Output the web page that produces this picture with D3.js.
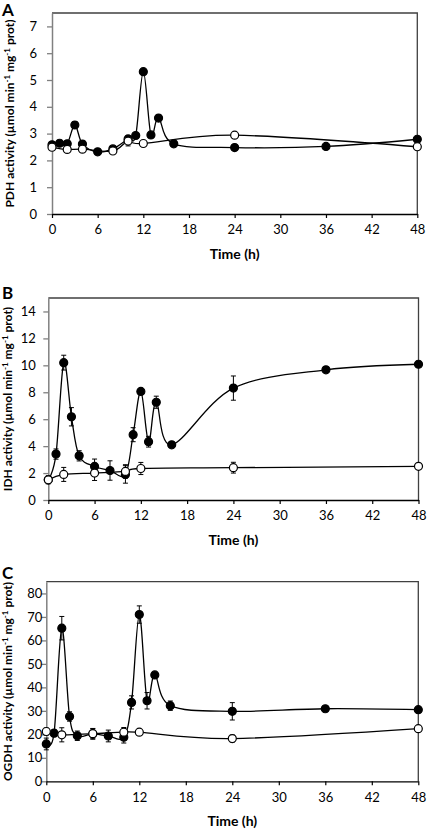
<!DOCTYPE html>
<html>
<head>
<meta charset="utf-8">
<script src="https://cdn.jsdelivr.net/npm/d3@7"></script>
<style>
  html, body { margin: 0; padding: 0; background: #fff; }
  svg { display: block; font-family: Lato, "Open Sans", sans-serif; }
</style>
</head>
<body>
<svg id="chart" width="427" height="832"></svg>
<script>
// ---------- data ----------
const xTicks = [0, 6, 12, 18, 24, 30, 36, 42, 48];

const filledHours = [0, 1, 2, 3, 4, 6, 8, 10, 11, 12, 13, 14, 16, 24, 36, 48];

// Panel A: PDH
const pdhOpenHours = [0, 2, 4, 8, 10, 12, 24, 48];
const pdhFilled    = [2.58, 2.64, 2.62, 3.32, 2.61, 2.32, 2.43, 2.80, 2.93, 5.31, 2.95, 3.58, 2.62, 2.48, 2.52, 2.79];
const pdhFilledErr = [0.08, 0.05, 0.05, 0.13, 0.08, 0.05, 0.06, 0.12, 0.08, 0.08, 0.06, 0.08, 0.05, 0.05, 0.05, 0.05];
const pdhOpen      = [2.49, 2.41, 2.42, 2.35, 2.72, 2.63, 2.94, 2.51];
const pdhOpenErr   = [0.05, 0.05, 0.05, 0.08, 0.18, 0.05, 0.05, 0.05];
const pdhYTicks    = [0, 1, 2, 3, 4, 5, 6, 7];

// Panel B: IDH
const idhOpenHours = [0, 2, 6, 10, 12, 24, 48];
const idhFilled    = [1.5, 3.41, 10.2, 6.18, 3.28, 2.49, 2.19, 1.9, 4.85, 8.06, 4.33, 7.26, 4.1, 8.31, 9.67, 10.08];
const idhFilledErr = [0.3, 0.38, 0.55, 0.68, 0.38, 0.55, 0.72, 0.65, 0.52, 0.2, 0.4, 0.45, 0.15, 0.9, 0.15, 0.15];
const idhOpen      = [1.5, 1.9, 2.0, 2.12, 2.34, 2.4, 2.5];
const idhOpenErr   = [0.2, 0.52, 0.55, 0.5, 0.45, 0.4, 0.15];
const idhYTicks    = [0, 2, 4, 6, 8, 10, 12, 14];

// Panel C: OGDH
const ogdhOpenHours = [0, 2, 6, 10, 12, 24, 48];
const ogdhFilled    = [15.9, 20.5, 65.2, 27.6, 19.4, 20.2, 19.3, 18.8, 33.6, 71.0, 34.3, 45.3, 32.2, 29.8, 30.9, 30.5];
const ogdhFilledErr = [2.5, 1.5, 5.0, 2.0, 2.0, 2.3, 2.5, 2.5, 2.8, 3.7, 3.5, 1.0, 2.0, 3.7, 1.0, 1.0];
const ogdhOpen      = [21.2, 19.8, 20.3, 20.9, 20.9, 18.2, 22.4];
const ogdhOpenErr   = [1.5, 3.0, 2.0, 2.0, 1.2, 1.5, 0.8];
const ogdhYTicks    = [0, 10, 20, 30, 40, 50, 60, 70, 80];

const panels = [
  { letter: "A", enzyme: "PDH", yMax: 7.5, yTicks: pdhYTicks,
    filled: pdhFilled, filledErr: pdhFilledErr, openHours: pdhOpenHours, open: pdhOpen, openErr: pdhOpenErr,
    box: { left: 52, right: 417.3, top: 13, bottom: 214 }, labelGap: 15, titleX: 14, letterY: 16 },
  { letter: "B", enzyme: "IDH", yMax: 15, yTicks: idhYTicks,
    filled: idhFilled, filledErr: idhFilledErr, openHours: idhOpenHours, open: idhOpen, openErr: idhOpenErr,
    box: { left: 48.3, right: 418.5, top: 298, bottom: 500 }, labelGap: 12.5, titleX: 12, letterY: 299 },
  { letter: "C", enzyme: "OGDH", yMax: 85, yTicks: ogdhYTicks,
    filled: ogdhFilled, filledErr: ogdhFilledErr, openHours: ogdhOpenHours, open: ogdhOpen, openErr: ogdhOpenErr,
    box: { left: 46.3, right: 418.3, top: 581.7, bottom: 781.3 }, labelGap: 4, titleX: 11.5, letterY: 579 }
];

// ---------- drawing ----------
const svg = d3.select("#chart");
const curve = d3.curveCatmullRom.alpha(0);

panels.forEach(p => {
  const b = p.box;
  const x = d3.scaleLinear().domain([0, 48]).range([b.left, b.right]);
  const y = d3.scaleLinear().domain([0, p.yMax]).range([b.bottom, b.top]);
  const g = svg.append("g");

  // top & right border
  g.append("path")
    .attr("d", `M${b.left},${b.top}H${b.right}V${b.bottom}`)
    .attr("fill", "none").attr("stroke", "#404040").attr("stroke-width", 1.3);

  // y axis
  const yAxis = g.append("g").attr("transform", `translate(${b.left},0)`)
    .call(d3.axisLeft(y).tickValues(p.yTicks).tickSize(5).tickPadding(p.labelGap - 5).tickSizeOuter(0));
  yAxis.select(".domain").attr("stroke", "#808080").attr("stroke-width", 1.5);
  yAxis.selectAll(".tick line").attr("stroke", "#808080").attr("stroke-width", 1.3);
  yAxis.selectAll(".tick text").attr("font-size", 13).attr("fill", "#000")
    .attr("font-family", "Lato, sans-serif");

  // x axis
  const xAxis = g.append("g").attr("transform", `translate(0,${b.bottom})`)
    .call(d3.axisBottom(x).tickValues(xTicks).tickSize(4).tickPadding(7).tickSizeOuter(0));
  xAxis.select(".domain").attr("stroke", "#000").attr("stroke-width", 1.3);
  xAxis.selectAll(".tick line").attr("stroke", "#000").attr("stroke-width", 1.2);
  xAxis.selectAll(".tick text").attr("font-size", 13).attr("fill", "#000")
    .attr("font-family", "Lato, sans-serif");

  // x title
  g.append("text")
    .attr("x", (b.left + b.right) / 2).attr("y", b.bottom + 45)
    .attr("text-anchor", "middle").attr("font-size", 14).attr("font-weight", "bold")
    .text("Time (h)");

  // y title
  const yt = g.append("text")
    .attr("transform", `translate(${p.titleX},${(b.top + b.bottom) / 2}) rotate(-90)`)
    .attr("text-anchor", "middle").attr("font-size", 12).attr("font-weight", "bold");
  yt.append("tspan").text(`${p.enzyme} activity (µmol min`);
  yt.append("tspan").attr("dy", -4).attr("font-size", 8).text("-1");
  yt.append("tspan").attr("dy", 4).text(" mg");
  yt.append("tspan").attr("dy", -4).attr("font-size", 8).text("-1");
  yt.append("tspan").attr("dy", 4).text(" prot)");

  // panel letter
  g.append("text").attr("x", 2).attr("y", p.letterY)
    .attr("font-size", 17).attr("font-weight", "bold").text(p.letter);

  const filledPts = filledHours.map((t, i) => ({ t, v: p.filled[i], e: p.filledErr[i] }));
  const openPts = p.openHours.map((t, i) => ({ t, v: p.open[i], e: p.openErr[i] }));

  const line = d3.line().x(d => x(d.t)).y(d => y(d.v)).curve(curve);

  function drawSeries(pts, fill) {
    g.append("path").datum(pts).attr("d", line)
      .attr("fill", "none").attr("stroke", "#000").attr("stroke-width", 1.3);
    const eb = g.append("g").attr("stroke", "#000").attr("stroke-width", 1);
    pts.forEach(d => {
      const xx = x(d.t), y1 = y(d.v + d.e), y2 = y(d.v - d.e);
      eb.append("line").attr("x1", xx).attr("x2", xx).attr("y1", y1).attr("y2", y2);
      eb.append("line").attr("x1", xx - 2.5).attr("x2", xx + 2.5).attr("y1", y1).attr("y2", y1);
      eb.append("line").attr("x1", xx - 2.5).attr("x2", xx + 2.5).attr("y1", y2).attr("y2", y2);
    });
    g.append("g").selectAll("circle").data(pts).join("circle")
      .attr("cx", d => x(d.t)).attr("cy", d => y(d.v)).attr("r", 4)
      .attr("fill", fill).attr("stroke", "#000").attr("stroke-width", 1.2);
  }
  drawSeries(filledPts, "#000");
  drawSeries(openPts, "#fff");
});
</script>
</body>
</html>
